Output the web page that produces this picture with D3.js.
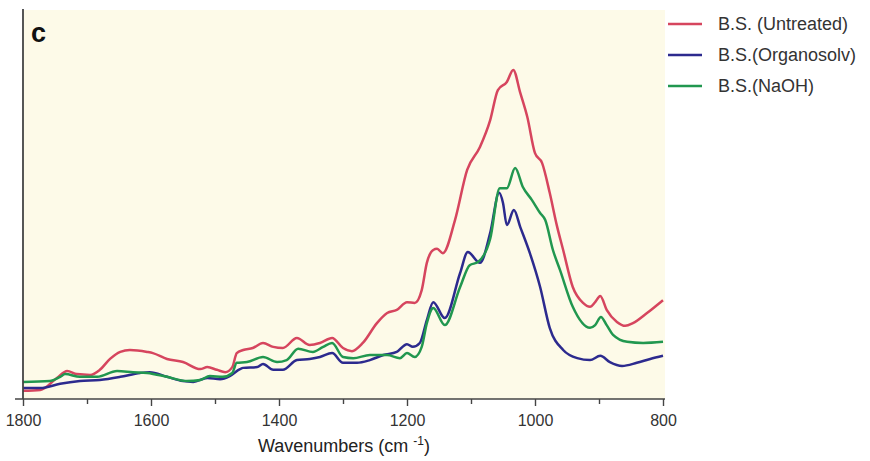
<!DOCTYPE html>
<html>
<head>
<meta charset="utf-8">
<script src="https://cdn.jsdelivr.net/npm/d3@7"></script>
<style>
  body { margin: 0; background: #fff; }
  svg { display: block; font-family: "Liberation Sans", Arial, sans-serif; }
</style>
</head>
<body>
<div id="chart"></div>
<script>
"use strict";

// [wavenumber (cm-1), absorbance (a.u.)]
var untreated = [
  [1800,0.021],[1773,0.023],[1747,0.054],[1731,0.072],[1716,0.064],[1695,0.062],[1680,0.075],
  [1664,0.103],[1648,0.121],[1633,0.126],[1606,0.121],[1597,0.118],[1575,0.103],[1550,0.095],
  [1523,0.077],[1512,0.082],[1497,0.075],[1484,0.069],[1473,0.082],[1466,0.118],[1456,0.126],
  [1441,0.131],[1425,0.144],[1409,0.134],[1394,0.131],[1372,0.157],[1352,0.139],[1336,0.144],
  [1317,0.157],[1300,0.131],[1286,0.123],[1269,0.144],[1247,0.195],[1231,0.221],[1216,0.229],
  [1200,0.249],[1188,0.247],[1177,0.280],[1169,0.350],[1159,0.383],[1153,0.386],[1144,0.375],
  [1125,0.460],[1106,0.589],[1086,0.648],[1070,0.717],[1058,0.794],[1044,0.815],[1034,0.846],
  [1023,0.787],[1012,0.725],[1000,0.632],[989,0.607],[977,0.530],[966,0.447],[956,0.383],
  [941,0.288],[925,0.247],[914,0.237],[906,0.249],[898,0.265],[888,0.229],[872,0.198],
  [859,0.188],[847,0.195],[825,0.221],[800,0.254]
];

var organosolv = [
  [1800,0.028],[1773,0.028],[1742,0.039],[1711,0.046],[1680,0.049],[1648,0.057],[1617,0.067],
  [1602,0.069],[1575,0.057],[1550,0.046],[1534,0.044],[1512,0.054],[1492,0.051],[1477,0.059],
  [1461,0.077],[1456,0.080],[1434,0.082],[1425,0.090],[1409,0.075],[1394,0.075],[1372,0.100],
  [1352,0.103],[1336,0.108],[1317,0.118],[1300,0.093],[1278,0.093],[1258,0.100],[1237,0.113],
  [1216,0.121],[1200,0.141],[1191,0.134],[1180,0.144],[1169,0.203],[1159,0.249],[1141,0.208],
  [1117,0.324],[1105,0.378],[1086,0.350],[1070,0.427],[1056,0.530],[1050,0.504],[1044,0.447],
  [1033,0.486],[1023,0.442],[1008,0.375],[992,0.288],[977,0.183],[956,0.126],[934,0.105],
  [914,0.100],[898,0.111],[883,0.095],[864,0.085],[841,0.093],[820,0.103],[800,0.111]
];

var naoh = [
  [1800,0.044],[1758,0.046],[1742,0.057],[1734,0.064],[1711,0.057],[1684,0.057],[1653,0.072],
  [1628,0.069],[1606,0.067],[1575,0.057],[1544,0.046],[1523,0.049],[1508,0.059],[1488,0.057],
  [1473,0.067],[1466,0.093],[1450,0.095],[1425,0.108],[1403,0.095],[1388,0.100],[1370,0.129],
  [1347,0.121],[1331,0.134],[1317,0.144],[1300,0.108],[1284,0.105],[1258,0.113],[1231,0.113],
  [1211,0.105],[1200,0.118],[1188,0.108],[1177,0.134],[1169,0.195],[1159,0.234],[1141,0.190],
  [1117,0.288],[1102,0.344],[1089,0.352],[1070,0.412],[1055,0.542],[1044,0.542],[1031,0.594],
  [1019,0.545],[1005,0.512],[992,0.478],[984,0.460],[972,0.383],[961,0.332],[941,0.237],
  [914,0.183],[906,0.190],[897,0.211],[888,0.190],[878,0.165],[856,0.147],[831,0.144],[800,0.147]
];

var seriesNames = ["B.S. (Untreated)", "B.S.(Organosolv)", "B.S.(NaOH)"];
var seriesColors = ["#d6455e", "#2c2a8e", "#21974f"];
var majorTicks = [1800, 1600, 1400, 1200, 1000, 800];
var minorTicks = [1700, 1500, 1300, 1100, 900];

var larg = 870, haut = 461;
var gauche = 23, droite = 663, haut0 = 10, bas = 399;

var svg = d3.select("#chart").append("svg")
  .attr("width", larg)
  .attr("height", haut)
  .attr("viewBox", "0 0 " + larg + " " + haut);

var x = d3.scaleLinear().domain([1800, 800]).range([gauche, droite]);
var y = d3.scaleLinear().domain([0, 1]).range([bas, haut0]);

// fond crème
svg.append("rect")
  .attr("x", gauche).attr("y", haut0)
  .attr("width", 665 - gauche).attr("height", bas - haut0)
  .attr("fill", "#fdfae8");

// courbes
var ligne = d3.line()
  .x(function(d){ return x(d[0]); })
  .y(function(d){ return y(d[1]); })
  .curve(d3.curveMonotoneX);

[untreated, organosolv, naoh].forEach(function(s, i){
  svg.append("path")
    .datum(s)
    .attr("d", ligne)
    .attr("fill", "none")
    .attr("stroke", seriesColors[i])
    .attr("stroke-width", 2.5)
    .attr("stroke-linejoin", "round");
});

// axe vertical (sans graduations)
svg.append("line")
  .attr("x1", gauche).attr("x2", gauche)
  .attr("y1", haut0 - 1).attr("y2", bas)
  .attr("stroke", "#444").attr("stroke-width", 1.8);

// axe du bas
var axeMajeur = svg.append("g")
  .attr("transform", "translate(0," + bas + ")")
  .call(d3.axisBottom(x).tickValues(majorTicks).tickFormat(d3.format("d"))
    .tickSize(7).tickPadding(9).tickSizeOuter(0));
axeMajeur.select(".domain").remove();
axeMajeur.selectAll(".tick line").attr("stroke", "#444").attr("stroke-width", 1.4);
axeMajeur.selectAll(".tick text")
  .attr("font-size", "16px")
  .attr("font-family", "Liberation Sans, Arial, sans-serif")
  .attr("fill", "#333");

var axeMineur = svg.append("g")
  .attr("transform", "translate(0," + bas + ")")
  .call(d3.axisBottom(x).tickValues(minorTicks).tickSize(5).tickFormat(""));
axeMineur.select(".domain").remove();
axeMineur.selectAll(".tick line").attr("stroke", "#444").attr("stroke-width", 1.4);

svg.append("line")
  .attr("x1", 15).attr("x2", 665)
  .attr("y1", bas).attr("y2", bas)
  .attr("stroke", "#444").attr("stroke-width", 1.6);

// titre de l'axe
var titre = svg.append("text")
  .attr("x", (gauche + droite) / 2 + 1)
  .attr("y", 452)
  .attr("text-anchor", "middle")
  .attr("font-size", "18px")
  .attr("fill", "#222");
titre.append("tspan").text("Wavenumbers (cm ");
titre.append("tspan").attr("font-size", "12px").attr("dy", -7).text("-1");
titre.append("tspan").attr("dy", 7).text(")");

// lettre du panneau
svg.append("text")
  .attr("x", 31).attr("y", 42)
  .attr("font-size", "27px")
  .attr("font-weight", "bold")
  .attr("fill", "#111")
  .text("c");

// légende
var legende = svg.append("g");
seriesNames.forEach(function(nom, i){
  var yy = 24 + i * 31;
  legende.append("line")
    .attr("x1", 668).attr("x2", 702)
    .attr("y1", yy).attr("y2", yy)
    .attr("stroke", seriesColors[i]).attr("stroke-width", 2.5);
  legende.append("text")
    .attr("x", 718).attr("y", yy + 6)
    .attr("font-size", "18px")
    .attr("fill", "#333")
    .text(nom);
});
</script>
</body>
</html>
